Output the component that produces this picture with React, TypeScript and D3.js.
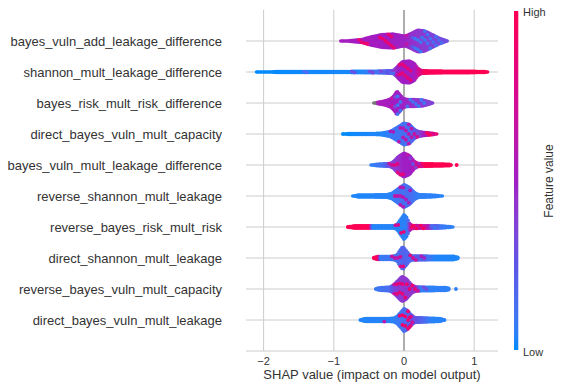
import React from 'react';
import * as d3 from 'd3';

const W = 563;
const H = 388;

const features = [
  'bayes_vuln_add_leakage_difference',
  'shannon_mult_leakage_difference',
  'bayes_risk_mult_risk_difference',
  'direct_bayes_vuln_mult_capacity',
  'bayes_vuln_mult_leakage_difference',
  'reverse_shannon_mult_leakage',
  'reverse_bayes_risk_mult_risk',
  'direct_shannon_mult_leakage',
  'reverse_bayes_vuln_mult_capacity',
  'direct_bayes_vuln_mult_leakage',
];

// [shap value, half-height of the swarm in px]
const shapeKnots: number[][][] = [
  [[-0.9, 1.3], [-0.8, 1.8], [-0.6, 3], [-0.45, 6], [-0.3, 8], [-0.15, 8.5], [-0.05, 7], [0.02, 6.5], [0.1, 9], [0.2, 12.5], [0.3, 11.5], [0.4, 8], [0.5, 4.5], [0.58, 2.5], [0.63, 1.3]],
  [[-2.1, 1], [-2.0, 1.5], [-1.8, 2], [-0.6, 2.2], [-0.3, 2.5], [-0.15, 3], [-0.08, 8], [-0.02, 12], [0.08, 12.5], [0.15, 10], [0.2, 5], [0.25, 3], [0.4, 2.5], [1.0, 2.2], [1.15, 2], [1.2, 1]],
  [[-0.43, 1.5], [-0.35, 2.5], [-0.25, 4], [-0.18, 6], [-0.13, 10], [-0.1, 13.5], [-0.06, 10], [-0.01, 6], [0.05, 5], [0.15, 5], [0.27, 4.5], [0.35, 3], [0.42, 1.3]],
  [[-0.87, 1.3], [-0.8, 2], [-0.35, 2.2], [-0.2, 4], [-0.1, 8], [0, 12.5], [0.08, 11], [0.15, 6], [0.2, 4], [0.3, 3], [0.42, 2.2], [0.47, 1.3]],
  [[-0.47, 1.3], [-0.4, 2.3], [-0.2, 3], [-0.15, 5], [-0.08, 10], [0, 13.5], [0.08, 11], [0.15, 5], [0.2, 3], [0.4, 2.7], [0.65, 2.3], [0.68, 1.5]],
  [[-0.73, 1.3], [-0.65, 2.5], [-0.25, 2.8], [-0.18, 4], [-0.1, 8], [0, 13], [0.08, 10], [0.15, 5], [0.2, 3], [0.45, 2.3], [0.56, 1.3]],
  [[-0.8, 1.8], [-0.7, 2.7], [-0.15, 2.7], [-0.1, 4], [-0.05, 9], [0, 14], [0.04, 11], [0.08, 5], [0.12, 3], [0.5, 2.7], [0.65, 2], [0.71, 1.3]],
  [[-0.43, 2], [-0.38, 3], [-0.15, 3.2], [-0.1, 4.5], [-0.06, 9], [-0.02, 13], [0.03, 9], [0.08, 4.5], [0.12, 3.5], [0.7, 3.3], [0.78, 2]],
  [[-0.4, 1.8], [-0.35, 2.8], [-0.2, 3.5], [-0.15, 5.5], [-0.1, 9], [-0.03, 14], [0.03, 12], [0.08, 8], [0.12, 5], [0.18, 3.5], [0.6, 3], [0.65, 2]],
  [[-0.62, 1.8], [-0.55, 3], [-0.15, 3.2], [-0.1, 5], [-0.05, 9], [0, 13], [0.05, 11], [0.1, 7], [0.15, 4], [0.5, 3], [0.58, 1.8]],
];

// [shap value, main feature value (0 low..1 high), secondary feature value, share of secondary]
const colorKnots: number[][][] = [
  [[-0.9, 0.52, 0.8, 0], [-0.5, 0.52, 0.9, 0.06], [0.0, 0.49, 0.85, 0.06], [0.15, 0.44, 0.1, 0.1], [0.3, 0.4, 0.1, 0.12], [0.5, 0.34, 0.15, 0.05], [0.63, 0.3, 0.1, 0]],
  [[-2.1, 0, 0, 0], [-0.6, 0.02, 0.3, 0.04], [-0.3, 0.15, 0.35, 0.15], [-0.15, 0.35, 0.1, 0.1], [-0.08, 0.5, 0.85, 0.06], [0.15, 0.5, 0.85, 0.06], [0.22, 0.72, 0.4, 0.05], [0.3, 0.97, 1, 0], [1.2, 1, 1, 0]],
  [[-0.43, 0.55, 0.55, 0], [-0.2, 0.53, 0.9, 0.06], [-0.1, 0.5, 0.1, 0.08], [0.05, 0.48, 0.15, 0.1], [0.2, 0.42, 0.1, 0.1], [0.42, 0.36, 0.1, 0]],
  [[-0.87, 0, 0, 0], [-0.3, 0.03, 0.4, 0.04], [-0.1, 0.1, 0.6, 0.1], [0.1, 0.15, 0.6, 0.12], [0.2, 0.3, 0.8, 0.1], [0.35, 0.65, 1, 0.1], [0.47, 0.85, 1, 0]],
  [[-0.47, 0.05, 0.05, 0], [-0.3, 0.12, 0.4, 0.06], [-0.15, 0.38, 0.8, 0.1], [0, 0.5, 0.85, 0.07], [0.12, 0.5, 0.25, 0.07], [0.2, 0.8, 0.5, 0.05], [0.3, 1, 1, 0], [0.7, 1, 1, 0]],
  [[-0.73, 0.02, 0.02, 0], [-0.2, 0.04, 0.7, 0.03], [-0.05, 0.12, 0.6, 0.08], [0.1, 0.15, 0.5, 0.1], [0.2, 0.06, 0.4, 0.03], [0.56, 0.04, 0.04, 0]],
  [[-0.8, 1, 1, 0], [-0.49, 0.98, 1, 0], [-0.45, 0.03, 0.03, 0], [-0.05, 0.04, 0.85, 0.03], [0.05, 0.05, 0.85, 0.05], [0.1, 0.65, 0.95, 0.2], [0.33, 0.65, 0.95, 0.2], [0.4, 0.3, 0.1, 0.1], [0.55, 0.08, 0.08, 0], [0.71, 0.05, 0.05, 0]],
  [[-0.43, 1, 1, 0], [-0.37, 0.95, 1, 0], [-0.33, 0.08, 0.8, 0.05], [-0.1, 0.12, 0.6, 0.08], [0, 0.2, 0.85, 0.1], [0.1, 0.15, 0.8, 0.08], [0.2, 0.25, 0.6, 0.1], [0.35, 0.12, 0.4, 0.05], [0.45, 0.03, 0.03, 0], [0.78, 0.02, 0.02, 0]],
  [[-0.4, 0.08, 0.08, 0], [-0.2, 0.15, 0.5, 0.05], [-0.1, 0.38, 0.85, 0.08], [0, 0.42, 0.85, 0.1], [0.1, 0.42, 0.9, 0.12], [0.18, 0.45, 0.85, 0.1], [0.25, 0.06, 0.35, 0.03], [0.65, 0.05, 0.05, 0]],
  [[-0.62, 0.03, 0.03, 0], [-0.15, 0.04, 0.85, 0.03], [-0.02, 0.12, 0.9, 0.08], [0.07, 0.18, 0.9, 0.18], [0.15, 0.3, 0.55, 0.1], [0.3, 0.15, 0.45, 0.05], [0.4, 0.04, 0.04, 0], [0.58, 0.04, 0.04, 0]],
];

// isolated points: [shap value, feature value]
const outliers: number[][][] = [[], [], [], [], [[0.75, 1.0]], [], [], [], [[0.74, 0.05]], []];
// shap values below this have a missing feature value (grey)
const missingBelow: (number | null)[] = [null, null, -0.38, null, null, null, null, null, null, null];

const xTicks = [-2, -1, 0, 1];
const xTickLabels = ['\u22122', '\u22121', '0', '1'];

// colour ramp anchors (low → high feature value)
const rampStops = [0, 0.25, 0.5, 0.75, 1];
const rampColors = ['#008bfb', '#5c55e8', '#a01ec4', '#d60a90', '#ff0052'];

const ramp = d3.scaleLinear<string>().domain(rampStops).range(rampColors).interpolate(d3.interpolateLab).clamp(true);
function shapColor(t: number): string {
  return ramp(t);
}

const FONT = "'Liberation Sans', Arial, sans-serif";

export default function App() {
  const x = d3.scaleLinear().domain([-2.2507, 1.339]).range([246, 498]);
  const y = d3.scaleLinear().domain([-1, 10]).range([351, 10]);
  const n = features.length;

  const baseDots: { cx: number; cy: number; fill: string }[] = [];
  const altDots: { cx: number; cy: number; fill: string }[] = [];

  features.forEach((_, i) => {
    const cy = y(n - 1 - i);
    const prof = shapeKnots[i];
    const hh = d3.scaleLinear().domain(prof.map((p) => p[0])).range(prof.map((p) => p[1])).clamp(true);
    const ck = colorKnots[i];
    const dom = ck.map((c) => c[0]);
    const base = d3.scaleLinear().domain(dom).range(ck.map((c) => c[1])).clamp(true);
    const alt = d3.scaleLinear().domain(dom).range(ck.map((c) => c[2])).clamp(true);
    const frac = d3.scaleLinear().domain(dom).range(ck.map((c) => c[3])).clamp(true);
    const px0 = x(prof[0][0]);
    const px1 = x(prof[prof.length - 1][0]);
    let col = 0;
    for (let px = px0; px <= px1 + 0.01; px += 1.4, col++) {
      const v = x.invert(px);
      const h = hh(v);
      const m = Math.max(1, Math.round((2 * h) / 2.4));
      const span = Math.max(0, h - 1.6);
      for (let j = 0; j < m; j++) {
        const off = m === 1 ? 0 : -span + (j * 2 * span) / (m - 1);
        const miss = missingBelow[i];
        if (miss !== null && v < miss) {
          baseDots.push({ cx: px, cy: cy + off, fill: '#777777' });
          continue;
        }
        const d = (col * 0.6180339 + j * 0.7548776) % 1;
        if (d < frac(v)) altDots.push({ cx: px, cy: cy + off, fill: shapColor(alt(v)) });
        else baseDots.push({ cx: px, cy: cy + off, fill: shapColor(base(v)) });
      }
    }
    outliers[i].forEach(([v, fv]) => altDots.push({ cx: x(v), cy, fill: shapColor(fv) }));
  });

  const stops = d3.range(0, 1.0001, 0.05);

  return (
    <svg width={W} height={H} style={{ display: 'block', position: 'absolute', left: 0, top: 0 }}>
      <defs>
        <linearGradient id="cb" x1="0" y1="1" x2="0" y2="0">
          {stops.map((s) => (
            <stop key={s} offset={s} stopColor={shapColor(s)} />
          ))}
        </linearGradient>
      </defs>
      <rect x={0} y={0} width={W} height={H} fill="#fff" />
      {xTicks.map((t) => (
        <line key={t} x1={x(t)} x2={x(t)} y1={10} y2={351} stroke={t === 0 ? '#999999' : '#cccccc'} strokeWidth={t === 0 ? 1.6 : 1} />
      ))}
      {features.map((f, i) => (
        <line key={f} x1={246} x2={498} y1={y(n - 1 - i)} y2={y(n - 1 - i)} stroke="#cccccc" strokeWidth={1} />
      ))}
      <g>
        {baseDots.map((d, k) => (
          <circle key={k} cx={d.cx} cy={d.cy} r={1.8} fill={d.fill} />
        ))}
        {altDots.map((d, k) => (
          <circle key={'a' + k} cx={d.cx} cy={d.cy} r={1.9} fill={d.fill} />
        ))}
      </g>
      <line x1={246} x2={498} y1={351} y2={351} stroke="#cccccc" strokeWidth={1} />
      {xTicks.map((t, k) => (
        <text key={t} x={x(t)} y={365} textAnchor="middle" fontSize={11} fill="#333333" fontFamily={FONT}>
          {xTickLabels[k]}
        </text>
      ))}
      <text x={372} y={379} textAnchor="middle" fontSize={13} fill="#333333" fontFamily={FONT}>
        SHAP value (impact on model output)
      </text>
      {features.map((f, i) => (
        <text key={f} x={222} y={y(n - 1 - i) + 4.5} textAnchor="end" fontSize={13} fill="#333333" fontFamily={FONT}>
          {f}
        </text>
      ))}
      <rect x={514} y={11} width={4.3} height={339} fill="url(#cb)" />
      <text x={523} y={16} fontSize={11} fill="#333333" fontFamily={FONT}>High</text>
      <text x={523} y={356} fontSize={11} fill="#333333" fontFamily={FONT}>Low</text>
      <text transform="translate(553,181) rotate(-90)" textAnchor="middle" fontSize={12} fill="#333333" fontFamily={FONT}>
        Feature value
      </text>
    </svg>
  );
}
